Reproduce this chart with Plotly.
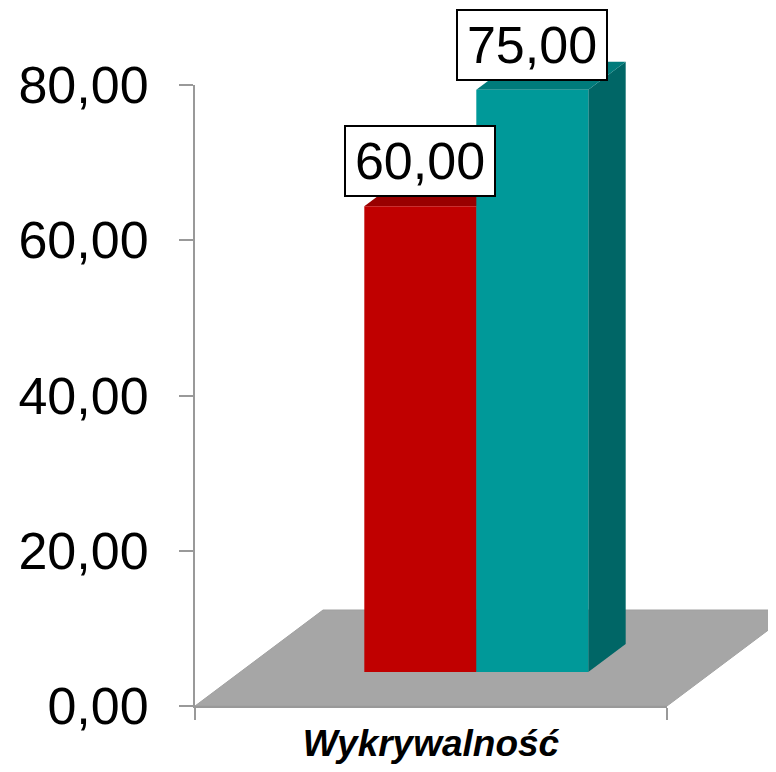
import plotly.graph_objects as go

# ---- data ----
categories = ["Wykrywalność"]
series_names = ["Seria 1", "Seria 2"]
values = [60.00, 75.00]
front_colors = ["#C00000", "#009999"]
top_colors = ["#990000", "#007B7B"]
side_colors = ["#800000", "#006666"]
y_ticks = [0, 20, 40, 60, 80]

# ---- layout geometry (pixels, relative to the figure; page body has an 8px margin) ----
W, H = 768, 756
AX_L, AX_R, AX_B, AX_T = 187, 659, 698, 77
Y_MIN, Y_MAX = 0, 80
px_per_x = (AX_R - AX_L) / 1.0
px_per_y = (AX_B - AX_T) / (Y_MAX - Y_MIN)

# 3D oblique depth vector (full floor depth) in data units
DEPTH_DX = 128 / px_per_x
DEPTH_DY = 96 / px_per_y
D_FRONT, D_BACK = 0.354, 0.646
BAR_W = 112 / px_per_x
GROUP_CENTER = 0.5


def proj(x, y, d):
    return x + d * DEPTH_DX, y + d * DEPTH_DY


def poly(pts, color, line_color=None, lw=0):
    return go.Scatter(x=[p[0] for p in pts] + [pts[0][0]], y=[p[1] for p in pts] + [pts[0][1]],
                      mode="lines", fill="toself", fillcolor=color,
                      line=dict(width=lw, color=line_color or color),
                      hoverinfo="skip", showlegend=False, xaxis="x", yaxis="y")


fig = go.Figure()

# floor (y = 0 plane)
fig.add_trace(poly([proj(0, 0, 0), proj(1, 0, 0), proj(1, 0, 1), proj(0, 0, 1)], "#A6A6A6", "#A0A0A0", 1))

n = len(values)
x0_list = [GROUP_CENTER - n * BAR_W / 2 + i * BAR_W for i in range(n)]

for i, v in enumerate(values):
    x0, x1 = x0_list[i], x0_list[i] + BAR_W
    # side face
    fig.add_trace(poly([proj(x1, 0, D_FRONT), proj(x1, 0, D_BACK), proj(x1, v, D_BACK), proj(x1, v, D_FRONT)],
                       side_colors[i]))
    # top face
    fig.add_trace(poly([proj(x0, v, D_FRONT), proj(x1, v, D_FRONT), proj(x1, v, D_BACK), proj(x0, v, D_BACK)],
                       top_colors[i]))
    # front face
    fig.add_trace(poly([proj(x0, 0, D_FRONT), proj(x1, 0, D_FRONT), proj(x1, v, D_FRONT), proj(x0, v, D_FRONT)],
                       front_colors[i]))
    # value label
    lx, ly = proj((x0 + x1) / 2, v, D_FRONT)
    fig.add_annotation(x=lx, y=ly, xref="x", yref="y", text=f"{v:.2f}".replace(".", ","),
                       showarrow=False, yanchor="bottom", yshift=9, width=148, height=68,
                       bgcolor="white", bordercolor="black", borderwidth=2, borderpad=0,
                       font=dict(family="Liberation Sans, Arial", size=52, color="black"))

# invisible trace for the visible axes subplot
fig.add_trace(go.Scatter(x=[None], y=[None], xaxis="x2", yaxis="y2", showlegend=False, hoverinfo="skip"))

fig.update_layout(
    width=W, height=H,
    margin=dict(l=0, r=0, t=0, b=0, autoexpand=False),
    paper_bgcolor="white", plot_bgcolor="rgba(0,0,0,0)",
    separators=", ",
    showlegend=False,
    xaxis=dict(domain=[0, 1], range=[(0 - AX_L) / px_per_x, (W - AX_L) / px_per_x], visible=False,
               fixedrange=True, automargin=False),
    yaxis=dict(domain=[0, 1], range=[(AX_B - H) / px_per_y, AX_B / px_per_y], visible=False,
               fixedrange=True, automargin=False),
    xaxis2=dict(domain=[AX_L / W, AX_R / W], range=[0, 1], anchor="y2", automargin=False,
                tickvals=[0, 1], ticks="outside", ticklen=12, tickwidth=2, tickcolor="#999999",
                showticklabels=False, showline=True, linecolor="#999999", linewidth=2, showgrid=False,
                zeroline=False,
                title=dict(text="<b><i>" + categories[0] + "</i></b>", standoff=14,
                           font=dict(family="Liberation Sans, Arial", size=37, color="black"))),
    yaxis2=dict(domain=[(H - AX_B) / H, (H - AX_T) / H], range=[Y_MIN, Y_MAX], anchor="x2",
                automargin=False,
                tickvals=y_ticks, tickformat=".2f", ticks="outside", ticklen=14, tickwidth=2,
                tickcolor="#999999", showline=True, linecolor="#999999", linewidth=2, showgrid=False,
                zeroline=False, ticklabelstandoff=20,
                tickfont=dict(family="Liberation Sans, Arial", size=52, color="black")),
)

fig.write_html("out.html")
